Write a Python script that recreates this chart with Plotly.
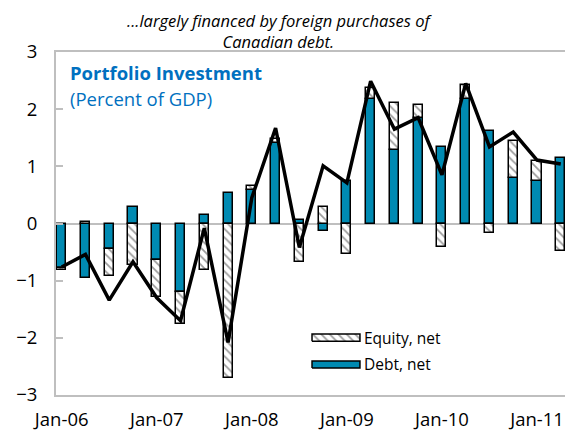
import plotly.graph_objects as go

quarters = ["2006Q1", "2006Q2", "2006Q3", "2006Q4",
            "2007Q1", "2007Q2", "2007Q3", "2007Q4",
            "2008Q1", "2008Q2", "2008Q3", "2008Q4",
            "2009Q1", "2009Q2", "2009Q3", "2009Q4",
            "2010Q1", "2010Q2", "2010Q3", "2010Q4",
            "2011Q1", "2011Q2"]
debt = [-0.78, -0.95, -0.45, 0.28, -0.63, -1.19, 0.15, 0.53, 0.58, 1.40, 0.06,
        -0.13, 0.75, 2.18, 1.29, 1.85, 1.34, 2.18, 1.62, 0.80, 0.74, 1.15]
equity = [-0.03, 0.03, -0.47, -0.72, -0.66, -0.57, -0.82, -2.70, 0.07, 0.07, -0.67,
          0.28, -0.54, 0.19, 0.81, 0.22, -0.41, 0.24, -0.17, 0.64, 0.36, -0.48]
total = [-0.76, -0.54, -1.34, -0.67, -1.30, -1.70, -0.08, -2.08, 0.45, 1.67, -0.42,
         1.01, 0.71, 2.49, 1.65, 1.85, 0.85, 2.45, 1.34, 1.60, 1.11, 1.04]
tick_idx = [0, 4, 8, 12, 16, 20]
tick_labels = ["Jan-06", "Jan-07", "Jan-08", "Jan-09", "Jan-10", "Jan-11"]
y_ticks = [-3, -2, -1, 0, 1, 2, 3]

BLUE = "#008AB2"
GRAY = "#BFBFBF"
FONT = "Open Sans"
x = list(range(len(quarters)))

fig = go.Figure()
fig.add_trace(go.Bar(
    x=x, y=debt, name="Debt, net", width=0.38,
    marker=dict(color=BLUE, line=dict(color="black", width=1.5)),
    showlegend=False,
))
fig.add_trace(go.Bar(
    x=x, y=equity, name="Equity, net", width=0.38,
    marker=dict(color="white", line=dict(color="black", width=1.5),
                pattern=dict(shape="\\", fgcolor="#3a3a3a", bgcolor="white",
                             size=6, solidity=0.3)),
    showlegend=False,
))
fig.add_trace(go.Scatter(
    x=x, y=total, mode="lines", name="Total",
    line=dict(color="black", width=3.5), showlegend=False,
))

# custom legend swatches drawn on an overlay axis (0..1 in plot area)
leg_x = [0.502, 0.596]
leg_eq_y = [0.157, 0.178]
leg_debt_y = [0.079, 0.099]
fig.add_trace(go.Scatter(
    x=[leg_x[0], leg_x[1], leg_x[1], leg_x[0], leg_x[0]],
    y=[leg_eq_y[0], leg_eq_y[0], leg_eq_y[1], leg_eq_y[1], leg_eq_y[0]],
    xaxis="x2", yaxis="y2", mode="lines", fill="toself",
    fillcolor="white",
    fillpattern=dict(shape="\\", fgcolor="#3a3a3a", bgcolor="white", size=6, solidity=0.3),
    line=dict(color="black", width=1.5), showlegend=False, hoverinfo="skip",
))
fig.add_trace(go.Scatter(
    x=[leg_x[0], leg_x[1], leg_x[1], leg_x[0], leg_x[0]],
    y=[leg_debt_y[0], leg_debt_y[0], leg_debt_y[1], leg_debt_y[1], leg_debt_y[0]],
    xaxis="x2", yaxis="y2", mode="lines", fill="toself",
    fillcolor=BLUE, line=dict(color="black", width=1.5),
    showlegend=False, hoverinfo="skip",
))

fig.update_layout(
    width=565, height=429,
    margin=dict(l=48, r=5, t=44, b=42),
    paper_bgcolor="white", plot_bgcolor="white",
    barmode="relative", bargap=0,
    font=dict(family=FONT, size=18, color="black"),
    xaxis=dict(
        range=[-0.24, 21.22], tickmode="array", tickvals=tick_idx, ticktext=tick_labels,
        showgrid=False, zeroline=False, showline=True, mirror=True,
        linecolor=GRAY, linewidth=2, ticks="", ticklabelstandoff=7,
        tickfont=dict(size=18.5),
    ),
    yaxis=dict(
        range=[-3, 3], tickmode="array", tickvals=y_ticks,
        showgrid=False, zeroline=True, zerolinecolor=GRAY, zerolinewidth=2,
        showline=True, mirror=True, linecolor=GRAY, linewidth=2,
        ticks="inside", ticklen=7, tickcolor=GRAY, tickwidth=2,
        ticklabelstandoff=13, tickfont=dict(size=18.5),
    ),
    xaxis2=dict(overlaying="x", range=[0, 1], visible=False),
    yaxis2=dict(overlaying="y", range=[0, 1], visible=False),
    showlegend=False,
    annotations=[
        dict(text="<i>...largely financed by foreign purchases of<br>Canadian debt.</i>",
             xref="paper", yref="paper", x=0.4375, y=1.127, xanchor="center", yanchor="top",
             showarrow=False, borderpad=0, font=dict(family=FONT, size=16.5, color="black")),
        dict(text="<b>Portfolio Investment</b>", xref="paper", yref="paper",
             x=0.024, y=0.94, xanchor="left", yanchor="middle", showarrow=False,
             font=dict(family=FONT, size=18.5, color="#0070C0")),
        dict(text="(Percent of GDP)", xref="paper", yref="paper",
             x=0.024, y=0.865, xanchor="left", yanchor="middle", showarrow=False,
             font=dict(family=FONT, size=18.5, color="#0070C0")),
        dict(text="Equity, net", xref="paper", yref="paper",
             x=0.600, y=0.167, xanchor="left", yanchor="middle", showarrow=False,
             font=dict(family=FONT, size=15.5, color="black")),
        dict(text="Debt, net", xref="paper", yref="paper",
             x=0.600, y=0.089, xanchor="left", yanchor="middle", showarrow=False,
             font=dict(family=FONT, size=15.5, color="black")),
    ],
)

fig.write_html("out.html")
